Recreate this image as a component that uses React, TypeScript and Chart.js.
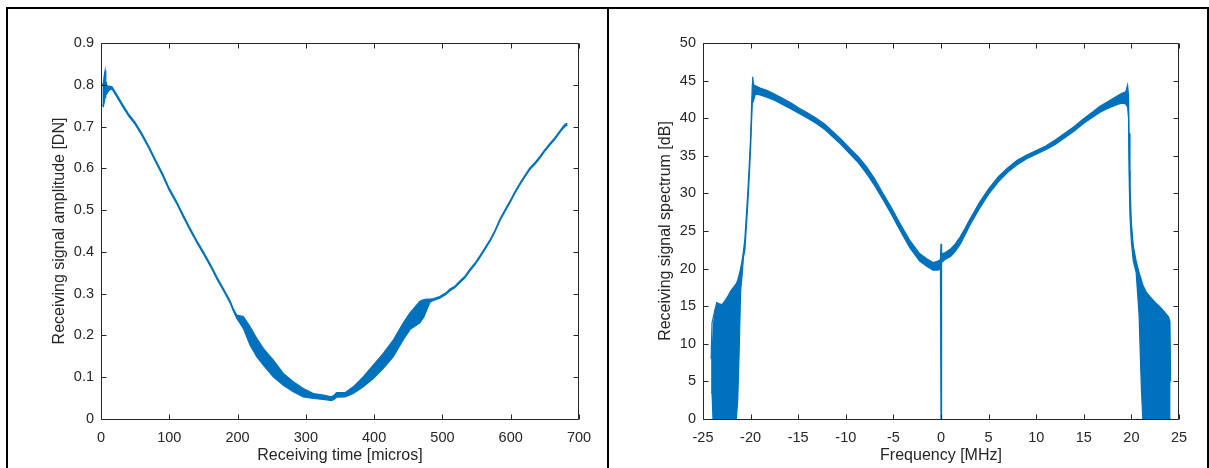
import React, { useEffect, useRef } from "react";
import { Chart, registerables } from "chart.js";

Chart.register(...registerables);

const FONT = "'Liberation Sans', Arial, Helvetica, sans-serif";
const INK = "#262626";
const BLUE = "#0072BD";

// ---------- Left panel: receiving signal amplitude vs time ----------
const timeMicros = [
  2, 3.5, 5, 6, 7, 9, 12, 16, 20, 25, 32, 40, 50, 60, 70, 80, 90, 100, 110, 120,
  130, 140, 150, 160, 170, 180, 189, 194, 198.7, 208.4, 218.2, 228, 237.7, 252.3,
  267, 281.6, 296.2, 311, 325.5, 337.8, 342, 345, 357.3, 369.5, 384, 398.7, 413.4,
  428, 442.7, 452.5, 467, 473, 478, 482, 487, 496, 505, 511, 518, 526, 533, 540,
  548, 555, 562, 570, 577, 584, 591, 599, 606, 614, 621, 628, 636, 643, 650, 658,
  665, 672, 677, 680, 683,
];
const ampUpper = [
  0.8, 0.805, 0.825, 0.834, 0.81, 0.797, 0.797, 0.795, 0.785, 0.771, 0.752, 0.731,
  0.71, 0.683, 0.653, 0.62, 0.588, 0.552, 0.523, 0.49, 0.458, 0.428, 0.4, 0.371,
  0.339, 0.31, 0.283, 0.263, 0.249, 0.245, 0.221, 0.193, 0.169, 0.141, 0.109, 0.089,
  0.073, 0.061, 0.057, 0.053, 0.058, 0.063, 0.063, 0.077, 0.101, 0.129, 0.157, 0.189,
  0.23, 0.254, 0.282, 0.286, 0.287, 0.287, 0.288, 0.293, 0.302, 0.311, 0.318, 0.331,
  0.342, 0.358, 0.374, 0.391, 0.409, 0.43, 0.452, 0.478, 0.499, 0.522, 0.544, 0.566,
  0.584, 0.601, 0.615, 0.629, 0.645, 0.661, 0.674, 0.69, 0.701, 0.706, 0.708,
];
const ampLower = [
  0.752, 0.748, 0.76, 0.77, 0.775, 0.78, 0.787, 0.79, 0.78, 0.766, 0.747, 0.726,
  0.705, 0.678, 0.648, 0.615, 0.583, 0.547, 0.518, 0.485, 0.453, 0.423, 0.395, 0.366,
  0.334, 0.305, 0.278, 0.258, 0.241, 0.217, 0.177, 0.149, 0.129, 0.101, 0.081, 0.065,
  0.053, 0.049, 0.047, 0.044, 0.048, 0.052, 0.053, 0.061, 0.077, 0.097, 0.121, 0.149,
  0.19, 0.214, 0.23, 0.245, 0.265, 0.28, 0.284, 0.289, 0.298, 0.307, 0.314, 0.327,
  0.338, 0.354, 0.37, 0.387, 0.405, 0.426, 0.448, 0.474, 0.495, 0.518, 0.54, 0.562,
  0.58, 0.597, 0.611, 0.625, 0.641, 0.657, 0.67, 0.686, 0.696, 0.701, 0.703,
];

// ---------- Right panel: receiving signal spectrum vs frequency ----------
const freqMHz = [
  -24.15, -24.05, -23.95, -23.75, -23.55, -23.3, -23.0, -22.7, -22.4, -22.1, -21.8,
  -21.5, -21.35, -21.2, -21.05, -20.9, -20.75, -20.6, -20.45, -20.3, -20.15, -20.0,
  -19.9, -19.82, -19.78, -19.7, -19.5, -19.0, -18.3, -17.5, -16.6, -15.7, -14.85,
  -14.0, -13.1, -12.2, -11.35, -10.5, -9.6, -8.7, -7.85, -7.0, -6.1, -5.2, -4.35,
  -3.3, -2.25, -1.5, -0.84, -0.3, -0.06, 0, 0.06, 0.42, 1.0, 1.5, 2.0, 2.5, 3.0, 3.5,
  4.0, 5.0, 6.0, 7.0, 8.0, 9.0, 10.0, 11.0, 12.0, 13.0, 14.0, 14.95, 16.0, 16.7, 17.5,
  18.46, 19.0, 19.4, 19.6, 19.7, 19.75, 19.85, 20.0, 20.2, 20.5, 20.8, 21.05, 21.2,
  21.6, 22.0, 22.5, 23.0, 23.5, 23.9, 24.05, 24.12,
];
const specUpper = [
  8, 12.8, 12.8, 14.5, 15.5, 15.3, 15.2, 15.7, 16.3, 17.0, 17.5, 18.0, 18.5, 19.2,
  20.0, 21.0, 22.3, 24.0, 27.0, 30.0, 33.5, 37.5, 41.5, 44.5, 45.5, 44.5, 44.3, 44.0,
  43.7, 43.2, 42.6, 42.0, 41.3, 40.7, 40.0, 39.2, 38.2, 37.2, 36.0, 34.9, 33.6, 32.0,
  30.0, 28.1, 26.1, 23.8, 22.0, 21.3, 20.8, 21.0, 21.2, 23.3, 22.0, 22.1, 22.6, 23.3,
  24.2, 25.3, 26.5, 27.6, 28.7, 30.6, 32.2, 33.4, 34.4, 35.1, 35.7, 36.3, 37.1, 38.0,
  38.9, 39.9, 40.9, 41.6, 42.2, 42.9, 43.3, 43.5, 44.4, 43.0, 38.0, 31.0, 26.0, 23.0,
  21.0, 19.5, 18.5, 17.8, 16.8, 16.2, 15.5, 14.9, 14.2, 13.6, 13.0, 5,
];
const specLower = [
  3.5, 3.5, 0, 0, 0, 0, 0, 0, 0, 0, 0, 0, 2.5, 9, 17, 19, 21.5, 22.5, 25.5, 28.5, 32,
  36, 39.5, 42, 42, 42.3, 43.2, 43.1, 42.8, 42.4, 41.8, 41.2, 40.6, 40.0, 39.3, 38.5,
  37.5, 36.5, 35.3, 34.1, 32.7, 31.1, 29.2, 27.2, 25.2, 22.8, 21.0, 20.3, 19.8, 19.8,
  20.0, 0, 20.8, 21.2, 21.6, 22.3, 23.2, 24.4, 25.7, 26.8, 27.9, 29.9, 31.5, 32.8,
  33.8, 34.6, 35.2, 35.8, 36.5, 37.4, 38.3, 39.3, 40.2, 40.8, 41.3, 41.8, 42.0, 41.9,
  41.5, 40.0, 33.0, 27.0, 23.5, 21.0, 19.5, 14.0, 4.0, 0, 0, 0, 0, 0, 0, 0, 0, 0,
];

// ---------- Frame with inward ticks on all four sides ----------
const framePlugin = {
  id: "matlabFrame",
  afterDatasetsDraw(chart: any) {
    const { ctx, chartArea: a, scales } = chart;
    const L = Math.round(a.left) + 0.5;
    const R = Math.round(a.right) - 0.5;
    const T = Math.round(a.top) + 0.5;
    const B = Math.round(a.bottom) + 0.5;
    const len = 5;
    ctx.save();
    ctx.strokeStyle = INK;
    ctx.lineWidth = 1;
    ctx.beginPath();
    ctx.rect(L, T, R - L, B - T);
    const xs = scales.x;
    xs.ticks.forEach((t: any) => {
      const px = Math.round(xs.getPixelForValue(t.value)) + 0.5;
      ctx.moveTo(px, B);
      ctx.lineTo(px, B - len);
      ctx.moveTo(px, T);
      ctx.lineTo(px, T + len);
    });
    const ys = scales.y;
    ys.ticks.forEach((t: any) => {
      const py = Math.round(ys.getPixelForValue(t.value)) + 0.5;
      ctx.moveTo(L, py);
      ctx.lineTo(L + len, py);
      ctx.moveTo(R, py);
      ctx.lineTo(R - len, py);
    });
    ctx.stroke();
    ctx.restore();
  },
};

type PanelSpec = {
  xs: number[];
  hi: number[];
  lo: number[];
  xMin: number;
  xMax: number;
  xStep: number;
  yMin: number;
  yMax: number;
  yStep: number;
  xTitle: string;
  yTitle: string;
  yAxisWidth: number;
  rightPad: number;
  yTitlePad: number;
};

function makeConfig(p: PanelSpec): any {
  const tickFont = { family: FONT, size: 14.5 };
  const titleFont = { family: FONT, size: 16 };
  const upper = p.xs.map((x, i) => ({ x, y: p.hi[i] }));
  const lower = p.xs.map((x, i) => ({ x, y: p.lo[i] }));
  return {
    type: "line",
    data: {
      datasets: [
        {
          data: upper,
          borderColor: BLUE,
          borderWidth: 1.2,
          pointRadius: 0,
          tension: 0,
          fill: false,
        },
        {
          data: lower,
          borderColor: BLUE,
          backgroundColor: BLUE,
          borderWidth: 1.2,
          pointRadius: 0,
          tension: 0,
          fill: "-1",
        },
      ],
    },
    options: {
      animation: false,
      responsive: true,
      maintainAspectRatio: false,
      devicePixelRatio: 1,
      layout: { padding: { left: 0, top: 43, right: p.rightPad, bottom: 0 } },
      plugins: {
        legend: { display: false },
        tooltip: { enabled: false },
        filler: { propagate: false },
      },
      scales: {
        x: {
          type: "linear",
          min: p.xMin,
          max: p.xMax,
          grid: { display: false, drawTicks: false },
          border: { display: false },
          ticks: {
            stepSize: p.xStep,
            color: INK,
            font: tickFont,
            padding: 10,
            maxRotation: 0,
            autoSkip: false,
          },
          title: {
            display: true,
            text: p.xTitle,
            color: INK,
            font: titleFont,
            padding: { top: 0, bottom: 3 },
          },
          afterFit: (s: any) => {
            s.height = 49;
          },
        },
        y: {
          type: "linear",
          min: p.yMin,
          max: p.yMax,
          grid: { display: false, drawTicks: false },
          border: { display: false },
          ticks: {
            stepSize: p.yStep,
            color: INK,
            font: tickFont,
            padding: 7,
            autoSkip: false,
          },
          title: {
            display: true,
            text: p.yTitle,
            color: INK,
            font: titleFont,
            padding: { top: p.yTitlePad, bottom: 0 },
          },
          afterFit: (s: any) => {
            s.width = p.yAxisWidth;
          },
        },
      },
    },
    plugins: [framePlugin],
  };
}

function Panel({ left, width, spec }: { left: number; width: number; spec: PanelSpec }) {
  const ref = useRef<HTMLCanvasElement>(null);
  useEffect(() => {
    const chart = new Chart(ref.current as HTMLCanvasElement, makeConfig(spec));
    return () => chart.destroy();
  }, []);
  return (
    <div style={{ position: "absolute", left, top: 0, width, height: 468 }}>
      <canvas ref={ref} />
    </div>
  );
}

const leftSpec: PanelSpec = {
  xs: timeMicros,
  hi: ampUpper,
  lo: ampLower,
  xMin: 0,
  xMax: 700,
  xStep: 100,
  yMin: 0,
  yMax: 0.9,
  yStep: 0.1,
  xTitle: "Receiving time [micros]",
  yTitle: "Receiving signal amplitude [DN]",
  yAxisWidth: 101,
  rightPad: 28,
  yTitlePad: 50,
};

const rightSpec: PanelSpec = {
  xs: freqMHz,
  hi: specUpper,
  lo: specLower,
  xMin: -25,
  xMax: 25,
  xStep: 5,
  yMin: 0,
  yMax: 50,
  yStep: 5,
  xTitle: "Frequency [MHz]",
  yTitle: "Receiving signal spectrum [dB]",
  yAxisWidth: 94,
  rightPad: 28,
  yTitlePad: 47,
};

const bar = (style: React.CSSProperties) => (
  <div style={{ position: "absolute", background: "#000", ...style }} />
);

export default function App() {
  return (
    <div
      style={{
        position: "absolute",
        left: 0,
        top: 0,
        width: 1209,
        height: 468,
        background: "#fff",
        overflow: "hidden",
      }}
    >
      <Panel left={0} width={607} spec={leftSpec} />
      <Panel left={609} width={598} spec={rightSpec} />
      {bar({ left: 6, top: 7, width: 1203, height: 2 })}
      {bar({ left: 6, top: 7, width: 2, height: 461 })}
      {bar({ left: 607, top: 7, width: 2, height: 461 })}
      {bar({ left: 1207, top: 7, width: 2, height: 461 })}
    </div>
  );
}
